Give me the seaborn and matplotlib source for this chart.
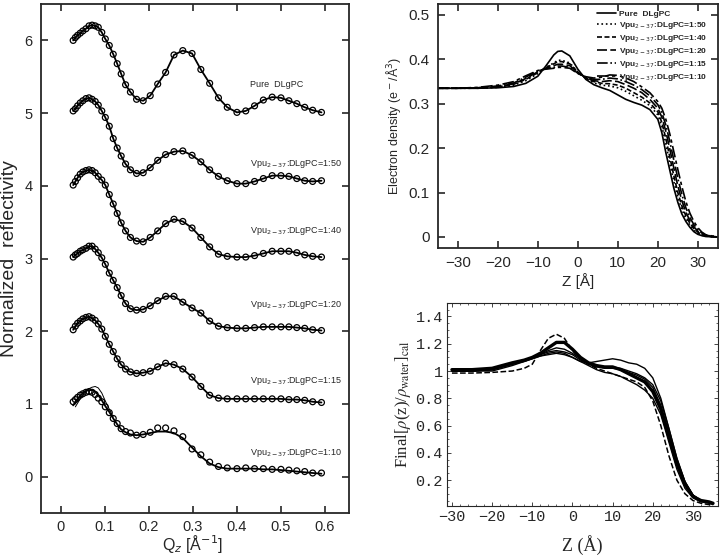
import numpy as np
import pandas as pd
import matplotlib
matplotlib.use('Agg')
import matplotlib.pyplot as plt
import seaborn as sns

sns.set_theme(style='ticks')
plt.rcParams['font.family'] = ['Liberation Sans', 'DejaVu Sans']

# ---------------- left panel: reflectivity curves ----------------
q = [0.028, 0.033, 0.038, 0.044, 0.050, 0.057, 0.064, 0.071, 0.078, 0.085,
     0.093, 0.101, 0.110, 0.119, 0.128, 0.137, 0.147, 0.158, 0.172, 0.187,
     0.203, 0.220, 0.238, 0.257, 0.277, 0.298, 0.318, 0.338, 0.358, 0.378,
     0.400, 0.420, 0.440, 0.460, 0.480, 0.500, 0.518, 0.536, 0.554, 0.572, 0.592]

refl_pure = [1.00, 1.04, 1.07, 1.10, 1.13, 1.16, 1.20, 1.21, 1.20, 1.18,
             1.11, 1.02, 0.93, 0.81, 0.68, 0.54, 0.39, 0.29, 0.19, 0.17,
             0.24, 0.40, 0.56, 0.80, 0.86, 0.82, 0.60, 0.41, 0.21, 0.08,
             0.01, 0.03, 0.10, 0.18, 0.22, 0.21, 0.17, 0.13, 0.08, 0.04, 0.01]
refl_50 = [1.03, 1.06, 1.10, 1.14, 1.17, 1.20, 1.21, 1.19, 1.16, 1.11,
           1.03, 0.94, 0.82, 0.65, 0.52, 0.41, 0.30, 0.22, 0.17, 0.18,
           0.25, 0.35, 0.43, 0.47, 0.48, 0.42, 0.33, 0.22, 0.13, 0.07,
           0.03, 0.03, 0.06, 0.10, 0.14, 0.14, 0.13, 0.10, 0.07, 0.06, 0.07]
refl_40 = [1.01, 1.06, 1.11, 1.16, 1.19, 1.21, 1.22, 1.21, 1.18, 1.13,
           1.08, 1.01, 0.88, 0.75, 0.62, 0.49, 0.38, 0.29, 0.24, 0.23,
           0.29, 0.38, 0.48, 0.54, 0.51, 0.42, 0.29, 0.16, 0.06, 0.03,
           0.02, 0.02, 0.04, 0.07, 0.10, 0.10, 0.10, 0.08, 0.05, 0.03, 0.02]
refl_20 = [1.02, 1.05, 1.07, 1.10, 1.12, 1.14, 1.17, 1.17, 1.13, 1.08,
           1.01, 0.92, 0.80, 0.70, 0.60, 0.49, 0.38, 0.31, 0.29, 0.30,
           0.35, 0.42, 0.48, 0.48, 0.40, 0.32, 0.25, 0.14, 0.07, 0.05,
           0.04, 0.04, 0.05, 0.06, 0.06, 0.06, 0.06, 0.05, 0.04, 0.02, 0.01]
refl_15 = [1.02, 1.07, 1.11, 1.14, 1.17, 1.19, 1.20, 1.18, 1.15, 1.10,
           1.03, 0.93, 0.82, 0.72, 0.62, 0.54, 0.48, 0.44, 0.42, 0.43,
           0.45, 0.51, 0.56, 0.54, 0.48, 0.37, 0.24, 0.12, 0.08, 0.07,
           0.07, 0.07, 0.07, 0.07, 0.07, 0.07, 0.06, 0.06, 0.05, 0.03, 0.02]
refl_10 = [1.03, 1.06, 1.09, 1.12, 1.14, 1.16, 1.17, 1.16, 1.13, 1.08,
           1.03, 0.96, 0.88, 0.80, 0.73, 0.66, 0.62, 0.60, 0.57, 0.58,
           0.61, 0.67, 0.67, 0.63, 0.55, 0.38, 0.30, 0.20, 0.14, 0.12,
           0.11, 0.12, 0.11, 0.11, 0.10, 0.10, 0.09, 0.08, 0.07, 0.05, 0.05]
# fitted curve for 1:10 (deviates from the points)
fit_10 = [0.98, 1.03, 1.07, 1.11, 1.15, 1.18, 1.19, 1.19, 1.17, 1.12,
          1.05, 0.97, 0.89, 0.80, 0.72, 0.65, 0.61, 0.58, 0.57, 0.58,
          0.60, 0.62, 0.62, 0.60, 0.53, 0.40, 0.28, 0.18, 0.13, 0.11,
          0.11, 0.11, 0.11, 0.10, 0.10, 0.09, 0.08, 0.07, 0.06, 0.05, 0.04]
# second (thin) model curve near the first peak of 1:10
q_alt = [0.033, 0.038, 0.044, 0.050, 0.057, 0.064, 0.071, 0.078, 0.085, 0.093, 0.101, 0.110, 0.119]
fit_10_alt = [0.96, 1.01, 1.07, 1.12, 1.17, 1.21, 1.23, 1.24, 1.22, 1.15, 1.04, 0.93, 0.82]

samples = ['Pure  DLgPC', 'Vpu$_{2-37}$:DLgPC=1:50', 'Vpu$_{2-37}$:DLgPC=1:40',
           'Vpu$_{2-37}$:DLgPC=1:20', 'Vpu$_{2-37}$:DLgPC=1:15', 'Vpu$_{2-37}$:DLgPC=1:10']
offsets = [5, 4, 3, 2, 1, 0]
label_y = [0.40, 0.30, 0.38, 0.36, 0.31, 0.33]

# ---------------- top right: electron density ----------------
z_ed = [-35, -30, -25, -20, -16, -13, -10, -8, -6, -5, -4, -2, 0, 2, 4, 6, 8, 10,
        12, 14, 16, 18, 20, 21, 22, 23, 24, 25, 26, 27, 28, 29, 30, 31, 32, 35]
ed_pure = [0.335, 0.335, 0.335, 0.336, 0.339, 0.346, 0.362, 0.385, 0.410, 0.418, 0.419, 0.408,
           0.378, 0.355, 0.343, 0.336, 0.330, 0.320, 0.310, 0.303, 0.297, 0.287,
           0.265, 0.235, 0.190, 0.150, 0.110, 0.078, 0.052, 0.035, 0.022, 0.012, 0.006, 0.003, 0.001, 0.0]
ed_50 = [0.335, 0.335, 0.335, 0.337, 0.342, 0.352, 0.368, 0.382, 0.392, 0.398, 0.398, 0.392,
         0.372, 0.357, 0.347, 0.342, 0.340, 0.336, 0.328, 0.318, 0.308, 0.296,
         0.275, 0.250, 0.210, 0.165, 0.125, 0.090, 0.062, 0.042, 0.027, 0.016, 0.008, 0.004, 0.002, 0.0]
ed_40 = [0.335, 0.335, 0.335, 0.338, 0.344, 0.355, 0.370, 0.381, 0.390, 0.395, 0.395, 0.390,
         0.371, 0.358, 0.350, 0.346, 0.345, 0.342, 0.335, 0.325, 0.315, 0.302,
         0.282, 0.258, 0.222, 0.180, 0.138, 0.100, 0.070, 0.048, 0.031, 0.019, 0.011, 0.005, 0.002, 0.0]
ed_20 = [0.335, 0.335, 0.336, 0.339, 0.345, 0.357, 0.372, 0.380, 0.386, 0.389, 0.389, 0.386,
         0.370, 0.359, 0.352, 0.350, 0.352, 0.350, 0.343, 0.335, 0.325, 0.310,
         0.290, 0.270, 0.238, 0.198, 0.155, 0.115, 0.082, 0.056, 0.037, 0.023, 0.013, 0.007, 0.003, 0.0]
ed_15 = [0.335, 0.335, 0.336, 0.340, 0.347, 0.360, 0.374, 0.379, 0.382, 0.385, 0.385, 0.382,
         0.369, 0.360, 0.355, 0.355, 0.358, 0.356, 0.350, 0.342, 0.332, 0.318,
         0.298, 0.280, 0.252, 0.215, 0.173, 0.132, 0.096, 0.066, 0.044, 0.028, 0.017, 0.009, 0.004, 0.0]
ed_10 = [0.335, 0.335, 0.337, 0.342, 0.350, 0.363, 0.375, 0.378, 0.380, 0.382, 0.382, 0.380,
         0.368, 0.361, 0.358, 0.360, 0.365, 0.364, 0.358, 0.350, 0.338, 0.325,
         0.305, 0.290, 0.265, 0.232, 0.192, 0.152, 0.114, 0.080, 0.054, 0.035, 0.021, 0.011, 0.005, 0.0]

# ---------------- bottom right: normalised density ----------------
z_nd = [-30, -25, -20, -15, -12, -10, -8, -6, -4, -2, 0, 2, 4, 6, 8, 10, 12, 14,
        16, 18, 20, 22, 24, 26, 28, 30, 32, 34, 35]
nd_a = [0.985, 0.985, 0.99, 1.00, 1.02, 1.05, 1.15, 1.24, 1.27, 1.24, 1.15, 1.09, 1.05, 1.02,
        1.00, 0.98, 0.96, 0.94, 0.92, 0.88, 0.78, 0.60, 0.38, 0.20, 0.10, 0.05, 0.03, 0.02, 0.02]
nd_b = [1.01, 1.01, 1.02, 1.06, 1.08, 1.10, 1.13, 1.17, 1.21, 1.21, 1.16, 1.10, 1.06, 1.04,
        1.03, 1.03, 1.01, 0.98, 0.95, 0.92, 0.85, 0.72, 0.52, 0.32, 0.17, 0.08, 0.05, 0.04, 0.03]
nd_c = [1.00, 1.00, 1.01, 1.05, 1.08, 1.10, 1.12, 1.15, 1.17, 1.16, 1.13, 1.09, 1.05, 1.03,
        1.02, 1.02, 1.01, 0.99, 0.97, 0.94, 0.88, 0.75, 0.55, 0.34, 0.18, 0.09, 0.05, 0.04, 0.03]
nd_d = [1.00, 1.00, 1.01, 1.05, 1.08, 1.10, 1.12, 1.14, 1.15, 1.14, 1.12, 1.08, 1.05, 1.04,
        1.03, 1.03, 1.02, 1.00, 0.98, 0.95, 0.90, 0.78, 0.58, 0.36, 0.19, 0.09, 0.05, 0.04, 0.03]
nd_e = [1.00, 1.00, 1.00, 1.04, 1.07, 1.09, 1.11, 1.12, 1.13, 1.12, 1.10, 1.07, 1.04, 1.01,
        0.99, 0.98, 0.96, 0.93, 0.90, 0.86, 0.80, 0.68, 0.48, 0.28, 0.14, 0.07, 0.04, 0.03, 0.02]
nd_f = [1.00, 1.00, 1.01, 1.05, 1.07, 1.09, 1.11, 1.13, 1.14, 1.13, 1.10, 1.07, 1.06, 1.07,
        1.08, 1.09, 1.08, 1.06, 1.05, 1.02, 0.95, 0.80, 0.58, 0.36, 0.19, 0.09, 0.05, 0.04, 0.03]


fig = plt.figure(figsize=(7.2, 5.55), dpi=100)

# ---- left panel ----
ax1 = fig.add_axes([0.057, 0.0757, 0.428, 0.917])
refl_all = [refl_pure, refl_50, refl_40, refl_20, refl_15, refl_10]
for i, (vals, off) in enumerate(zip(refl_all, offsets)):
    df = pd.DataFrame({'q': q, 'r': np.array(vals) + off})
    if i == 5:
        fit = pd.DataFrame({'q': q, 'r': np.array(fit_10) + off})
        alt = pd.DataFrame({'q': q_alt, 'r': np.array(fit_10_alt) + off})
        sns.lineplot(data=alt, x='q', y='r', ax=ax1, color='black', lw=0.7, sort=False)
    else:
        fit = df
    sns.lineplot(data=fit, x='q', y='r', ax=ax1, color='black', lw=1.3, sort=False)
    sns.scatterplot(data=df, x='q', y='r', ax=ax1, marker='o', s=18,
                    facecolor='none', edgecolor='black', linewidth=0.9, zorder=3)
    ax1.text(0.43, off + label_y[i], samples[i], ha='left', va='center', fontsize=6.5)

ax1.set_xlim(-0.045, 0.655)
ax1.set_ylim(-0.5, 6.5)
ax1.set_xticks([0, 0.1, 0.2, 0.3, 0.4, 0.5, 0.6])
ax1.set_xticklabels(['0', '0.1', '0.2', '0.3', '0.4', '0.5', '0.6'])
ax1.set_yticks([0, 1, 2, 3, 4, 5, 6])
ax1.tick_params(direction='in', top=True, right=True, length=5, width=1.2,
                labelsize=10.5, pad=6)
ax1.tick_params(axis='x', pad=5)
for sp in ax1.spines.values():
    sp.set_linewidth(1.3)
ax1.set_xlabel('')
ax1.set_ylabel('Normalized  reflectivity', fontsize=14)
ax1.yaxis.set_label_coords(-0.075, 0.5)
fig.text(0.268, 0.0, r'Q$_z$ [Å$^{-1}$]', ha='center', va='bottom', fontsize=11.5)

# ---- top right panel ----
ax2 = fig.add_axes([0.608, 0.553, 0.389, 0.44])
ed_all = [ed_pure, ed_50, ed_40, ed_20, ed_15, ed_10]
styles = ['-', ':', (0, (3, 1.5)), (0, (6, 2)), '-.', (0, (7, 2, 2, 2))]
for vals, lab, ls in zip(ed_all, samples, styles):
    df = pd.DataFrame({'z': z_ed, 'rho': vals})
    sns.lineplot(data=df, x='z', y='rho', ax=ax2, color='black', lw=1.2,
                 linestyle=ls, label=lab, sort=False)
ax2.set_xlim(-35, 35)
ax2.set_ylim(-0.025, 0.525)
ax2.set_xticks([-30, -20, -10, 0, 10, 20, 30])
ax2.set_yticks([0, 0.1, 0.2, 0.3, 0.4, 0.5])
ax2.set_yticklabels(['0', '0.1', '0.2', '0.3', '0.4', '0.5'])
ax2.tick_params(direction='in', top=True, right=True, length=5, width=1.2,
                labelsize=11, pad=6)
for sp in ax2.spines.values():
    sp.set_linewidth(1.3)
ax2.set_xlabel('Z [Å]', fontsize=11, labelpad=2)
ax2.set_ylabel(r'Electron density (e$^-$/Å$^3$)', fontsize=9, labelpad=4)
ax2.legend(loc='upper right', bbox_to_anchor=(0.98, 0.995), frameon=False,
           handlelength=2.2, handletextpad=0.4, labelspacing=0.25,
           borderaxespad=0.2, prop={'weight': 'bold', 'size': 6})

# ---- bottom right panel ----
ax3 = fig.add_axes([0.621, 0.0883, 0.376, 0.366])
nd_all = [nd_a, nd_b, nd_c, nd_d, nd_e, nd_f]
nd_ls = ['--', '-', '-', '-', '-', '-']
nd_lw = [1.1, 2.4, 1.0, 1.0, 1.0, 1.0]
for vals, ls, lw in zip(nd_all, nd_ls, nd_lw):
    df = pd.DataFrame({'z': z_nd, 'v': vals})
    sns.lineplot(data=df, x='z', y='v', ax=ax3, color='black', lw=lw,
                 linestyle=ls, sort=False)
ax3.set_xlim(-31.2, 36.2)
ax3.set_ylim(0.01, 1.5)
ax3.set_xticks([-30, -20, -10, 0, 10, 20, 30])
ax3.set_yticks([0.2, 0.4, 0.6, 0.8, 1.0, 1.2, 1.4])
ax3.set_yticklabels(['0.2', '0.4', '0.6', '0.8', '1', '1.2', '1.4'])
ax3.set_xticks(np.arange(-30, 36, 2), minor=True)
ax3.set_yticks(np.arange(0.05, 1.5, 0.05), minor=True)
ax3.tick_params(which='major', direction='in', top=True, right=True, length=3,
                width=0.6, labelsize=11, pad=3)
ax3.tick_params(which='minor', direction='in', top=True, right=True, length=1.5, width=0.5)
for lab in ax3.get_xticklabels() + ax3.get_yticklabels():
    lab.set_family(['Liberation Mono', 'DejaVu Sans Mono'])
for sp in ax3.spines.values():
    sp.set_linewidth(0.8)
ax3.set_xlabel('Z (Å)', fontsize=13, family=['Liberation Serif', 'DejaVu Serif'], labelpad=8)
ax3.set_ylabel(r'Final[$\rho$(z)/$\rho_{\mathrm{water}}$]$_{\mathrm{cal}}$', fontsize=12,
               family=['Liberation Serif', 'DejaVu Serif'], math_fontfamily='stix', labelpad=2)

fig.savefig('out.png', dpi=100)
